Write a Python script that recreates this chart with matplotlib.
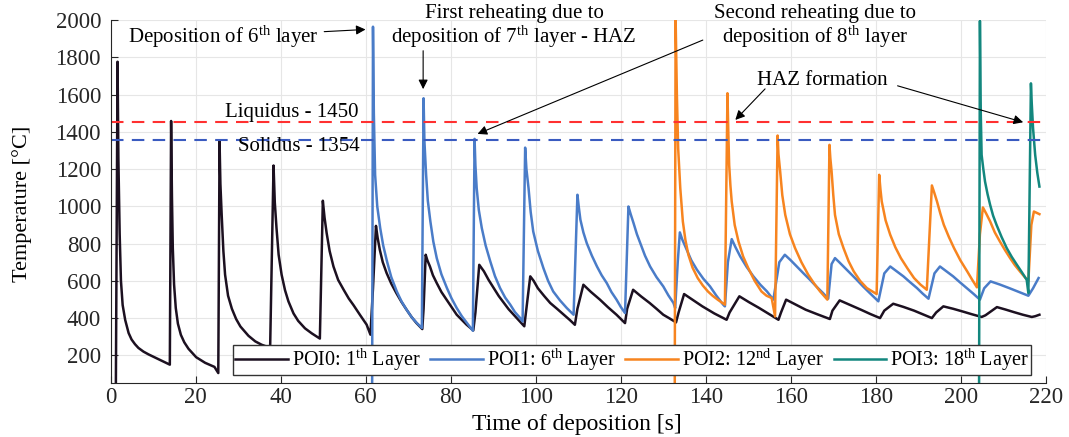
import matplotlib
matplotlib.use("Agg")
import matplotlib.pyplot as plt

plt.rcParams["font.family"] = ["Liberation Serif", "DejaVu Serif"]
plt.rcParams["mathtext.fontset"] = "custom"
plt.rcParams["mathtext.rm"] = "Liberation Serif"
plt.rcParams["mathtext.it"] = "Liberation Serif:italic"

# ---- data (time [s], temperature [degC]) ----
poi0_t = [1.2, 1.6, 1.8, 2.1, 2.4, 2.8, 3.4, 4.2, 4.9, 5.7, 6.5, 7.7, 8.9, 11.2, 13.6, 13.9,
          14.2, 14.4, 14.6, 14.9, 15.3, 15.8, 16.5, 17.3, 18.3, 20.1, 22.2, 24.4, 25.3,
          25.6, 25.8, 26.1, 26.5, 26.9, 27.6, 28.5, 29.5, 30.5, 32.4, 34.0, 35.5, 37.5,
          38.3, 38.6, 39.0, 39.5, 40.2, 41.0, 41.8, 43.0, 44.1, 45.7, 47.3, 49.2,
          49.9, 50.3, 50.8, 51.5, 52.4, 53.5, 54.8, 56.0, 57.1, 58.7, 60.2, 61.1,
          61.7, 62.4, 62.8, 63.3, 64.0, 64.9, 66.0, 67.2, 68.4, 69.6, 70.8, 71.9, 73.3,
          73.6, 74.1, 74.5, 75.1, 75.8, 76.7, 77.8, 79.0, 80.2, 81.4, 82.6, 83.7, 85.3,
          85.8, 86.7, 87.2, 87.8, 88.9, 90.1, 91.3, 92.5, 93.6, 94.8, 96.0, 96.8, 97.3,
          97.8, 98.7, 99.5, 100.5, 102.0, 103.4, 105.0, 106.5, 108.0, 109.2,
          109.8, 111.2, 113.0, 115.1, 117.0, 119.0, 121.0,
          121.5, 122.9, 124.8, 126.8, 128.4, 130.0, 131.5, 133.0,
          133.6, 134.9, 137.0, 139.2, 142.0, 144.9,
          145.6, 147.9, 150.2, 152.5, 154.8, 157.1,
          157.7, 158.9, 161.2, 163.5, 166.3, 169.2,
          169.8, 171.5, 174.0, 176.5, 178.7, 181.0,
          182.0, 184.1, 186.5, 189.0, 191.1, 193.2,
          194.2, 195.9, 198.2, 200.5, 202.7, 204.9,
          205.8, 208.5, 210.5, 212.5, 214.6, 216.7, 217.5, 218.5]
poi0_T = [20, 1776, 1250, 850, 600, 470, 390, 320, 285, 260, 240, 220, 205, 180, 154, 150,
          1458, 1050, 776, 580, 454, 370, 310, 270, 235, 190, 160, 138, 105,
          1348, 1120, 954, 760, 633, 520, 450, 395, 355, 305, 275, 257, 240,
          1219, 1020, 883, 740, 633, 550, 490, 425, 385, 345, 318, 290,
          1030, 940, 856, 760, 677, 605, 552, 505, 470, 415, 365, 311,
          560, 895, 830, 767, 700, 642, 585, 534, 487, 445, 405, 374, 341,
          450, 740, 710, 677, 630, 588, 540, 499, 457, 418, 390, 365, 334,
          430, 686, 670, 651, 605, 561, 518, 481, 448, 418, 388, 368, 356,
          450, 624, 600, 560, 518, 481, 450, 420, 390, 364,
          450, 579, 540, 499, 458, 418, 373,
          450, 552, 516, 481, 450, 418, 398, 377,
          430, 529, 497, 463, 425, 391,
          430, 517, 485, 455, 423, 391,
          430, 499, 472, 445, 420, 395,
          440, 495, 470, 445, 422, 400,
          440, 477, 460, 440, 420, 400,
          430, 463, 450, 435, 420, 406,
          415, 459, 446, 432, 418, 406, 410, 418]

poi1_t = [61.5, 61.7, 61.9, 62.2, 62.7, 63.4, 64.1, 65.0, 66.0, 67.3, 68.4, 69.6, 70.8, 72.0, 73.2,
          73.6, 73.8, 74.2, 74.6, 75.2, 75.9, 76.7, 77.8, 79.1, 80.2, 81.4, 82.6, 83.8, 85.2,
          85.6, 85.8, 86.1, 86.6, 87.3, 88.2, 89.3, 90.4, 91.6, 92.8, 94.0, 95.1, 96.3, 96.9,
          97.5, 97.8, 98.3, 98.8, 99.4, 100.5, 101.8, 102.9, 104.1, 105.7, 107.3, 108.9,
          109.8, 110.1, 110.5, 111.2, 112.0, 113.2, 114.4, 115.5, 116.7, 117.8, 119.0, 120.0, 121.0,
          121.8, 122.3, 123.0, 123.8, 124.6, 125.7, 126.9, 128.4, 130.0, 131.2, 132.4, 132.8,
          133.4, 133.9, 134.5, 135.5, 136.6, 137.9, 139.4, 141.0, 142.5, 144.1, 144.5,
          145.2, 146.1, 147.0, 148.1, 149.6, 151.2, 152.8, 154.4, 155.9,
          157.3, 158.6, 160.0, 161.4, 163.0, 164.5, 166.0, 167.6, 168.8,
          169.6, 170.4, 171.4, 172.4, 174.0, 175.5, 177.0, 178.6, 180.6,
          182.0, 183.4, 185.0, 186.5, 188.1, 189.7, 191.0, 192.4,
          193.8, 195.1, 196.7, 198.2, 199.8, 201.4, 203.0, 204.5,
          205.5, 207.0, 209.2, 211.5, 213.7, 215.9, 217.0, 218.3]
poi1_T = [20, 1964, 1500, 1169, 1000, 883, 790, 704, 620, 543, 490, 445, 405, 374, 347,
          1580, 1350, 1169, 1030, 919, 810, 722, 635, 561, 505, 454, 410, 374, 332,
          1362, 1220, 1097, 980, 883, 790, 704, 625, 561, 510, 472, 432, 401, 382,
          1315, 1200, 1097, 970, 865, 760, 668, 600, 543, 495, 454, 418,
          1062, 1000, 928, 860, 802, 735, 677, 630, 588, 540, 499, 460, 427,
          999, 960, 910, 850, 802, 735, 677, 620, 570, 522, 481, 454,
          700, 860, 820, 767, 710, 660, 612, 570, 520, 472, 463,
          700, 824, 780, 731, 675, 624, 580, 543, 499,
          700, 740, 710, 677, 640, 606, 570, 534, 504,
          690, 722, 700, 677, 640, 606, 570, 534, 490,
          640, 677, 650, 624, 592, 561, 532, 504,
          640, 677, 650, 624, 592, 561, 530, 499,
          560, 597, 580, 560, 540, 520, 560, 615]

poi2_t = [132.7, 132.9, 133.2, 133.5, 134.0, 134.6, 135.2, 135.9, 136.9, 138.1, 139.3, 140.5,
          141.6, 142.8, 144.5,
          145.1, 145.3, 145.5, 145.8, 146.1, 146.8, 147.7, 148.8, 150.0, 151.5, 153.1, 154.3,
          155.5, 156.3,
          156.9, 157.1, 157.5, 158.0, 158.7, 159.8, 161.0, 162.5, 164.1, 165.5, 166.9, 168.6,
          169.1, 169.3, 169.6, 170.0, 170.4, 171.3, 172.4, 173.6, 174.8, 176.3, 177.9, 180.2,
          180.8, 181.1, 181.4, 182.3, 183.4, 184.6, 185.9, 187.5, 189.0, 190.5, 192.0,
          193.2, 193.8, 194.4, 195.2, 196.0, 197.2, 198.4, 199.9, 201.5, 202.7, 203.8,
          204.5, 205.2, 206.0, 206.9, 208.0, 209.2, 210.4, 211.6, 212.7, 213.9, 215.9,
          216.6, 217.2, 218.5]
poi2_T = [20, 2010, 1600, 1312, 1097, 919, 820, 740, 670, 615, 575, 543, 520, 499, 472,
          1607, 1400, 1222, 1110, 1026, 900, 811, 730, 668, 600, 543, 520, 508, 409,
          1380, 1280, 1187, 1060, 954, 850, 776, 700, 633, 585, 543, 499,
          1330, 1260, 1187, 1060, 954, 850, 776, 705, 651, 600, 561, 529,
          1169, 1090, 1026, 925, 847, 780, 722, 665, 615, 580, 552,
          1112, 1070, 1026, 960, 901, 835, 776, 710, 651, 605, 565,
          850, 994, 960, 919, 860, 811, 765, 722, 685, 651, 597,
          900, 972, 958]

poi3_t = [204.3, 204.5, 204.7, 204.9, 205.3, 205.7, 206.3, 206.9, 207.6, 208.4, 209.6, 210.8,
          212.0, 213.2, 214.4, 215.5, 215.9,
          216.5, 216.7, 217.0, 217.5, 218.0, 218.5]
poi3_T = [20, 1995, 1500, 1276, 1200, 1133, 1065, 1008, 950, 901, 835, 776,
          728, 686, 645, 606, 534,
          1660, 1550, 1419, 1276, 1180, 1106]

liquidus = 1450
solidus = 1354

series_labels = ["POI0: 1$^{\\mathrm{th}}$ Layer", "POI1: 6$^{\\mathrm{th}}$ Layer",
                 "POI2: 12$^{\\mathrm{nd}}$ Layer", "POI3: 18$^{\\mathrm{th}}$ Layer"]
x_ticks = list(range(0, 221, 20))
y_ticks = list(range(200, 2001, 200))

fig = plt.figure(figsize=(10.69, 4.37), dpi=100)
ax = fig.add_axes([0.1036, 0.1229, 0.8747, 0.8313])

lw = 1.8
ax.plot(poi0_t, poi0_T, color="#1c1020", lw=lw, label=series_labels[0])
ax.plot(poi1_t, poi1_T, color="#4a7cc8", lw=lw, label=series_labels[1])
ax.plot(poi2_t, poi2_T, color="#f7841f", lw=lw, label=series_labels[2])
ax.plot(poi3_t, poi3_T, color="#13877e", lw=lw, label=series_labels[3])

ax.axhline(liquidus, color="#ff3030", lw=1.5, dashes=(6, 4))
ax.axhline(solidus, color="#3a5bc0", lw=1.5, dashes=(6, 4))

ax.set_xlim(0, 220)
ax.set_ylim(50, 2000)
ax.set_xticks(x_ticks)
ax.set_yticks(y_ticks)
ax.grid(True, color="#e6e6e6", lw=0.8)
ax.set_axisbelow(True)
for s in ["top", "right"]:
    ax.spines[s].set_visible(False)
for s in ["left", "bottom"]:
    ax.spines[s].set_color("#262626")
ax.tick_params(direction="in", length=5, labelsize=16.5, colors="#262626")
ax.tick_params(axis="x", pad=3)
ax.tick_params(axis="y", pad=7)

ax.set_xlabel("Time of deposition [s]", fontsize=17, va="center")
ax.xaxis.set_label_coords(0.498, -0.1134)
ax.set_ylabel("Temperature [°C]", fontsize=16, va="center")
ax.yaxis.set_label_coords(-0.0949, 0.495)

ax.legend(loc="lower center", bbox_to_anchor=(0.5575, 0.022), ncol=4, fontsize=14.5,
          frameon=True, fancybox=False, edgecolor="#333333", framealpha=1,
          handlelength=2.6, handletextpad=0.2, columnspacing=0.5, borderpad=0.1,
          borderaxespad=0)

afs = 15
arrow = dict(arrowstyle="-|>", color="black", lw=0.8, mutation_scale=14)
ax.annotate("Deposition of 6$^{\\mathrm{th}}$ layer", xy=(60.6, 1950), xytext=(26.5, 1909),
            ha="center", va="center", fontsize=afs, arrowprops=arrow, annotation_clip=False)
ax.annotate("First reheating due to\ndeposition of 7$^{\\mathrm{th}}$ layer - HAZ",
            xy=(73.5, 1614), xytext=(94.9, 1962), ha="center", va="center", fontsize=afs,
            linespacing=1.0, annotation_clip=False)
ax.annotate("", xy=(73.5, 1614), xytext=(73.5, 1850), arrowprops=arrow, annotation_clip=False)
ax.annotate("Second reheating due to\ndeposition of 8$^{\\mathrm{th}}$ layer",
            xy=(85.7, 1383), xytext=(165.6, 1962), ha="center", va="center", fontsize=afs,
            linespacing=1.0, annotation_clip=False)
ax.annotate("", xy=(85.7, 1383), xytext=(139.9, 1898), arrowprops=arrow, annotation_clip=False)
ax.text(167.4, 1678, "HAZ formation", ha="center", va="center", fontsize=afs)
ax.annotate("", xy=(146.5, 1453), xytext=(154.4, 1641), arrowprops=arrow)
ax.annotate("", xy=(215.3, 1447), xytext=(184.5, 1651), arrowprops=arrow)
ax.text(42.7, 1501, "Liquidus - 1450", ha="center", va="center", fontsize=afs)
ax.text(44.2, 1319, "Solidus - 1354", ha="center", va="center", fontsize=afs)

fig.savefig("out.png", dpi=100)
